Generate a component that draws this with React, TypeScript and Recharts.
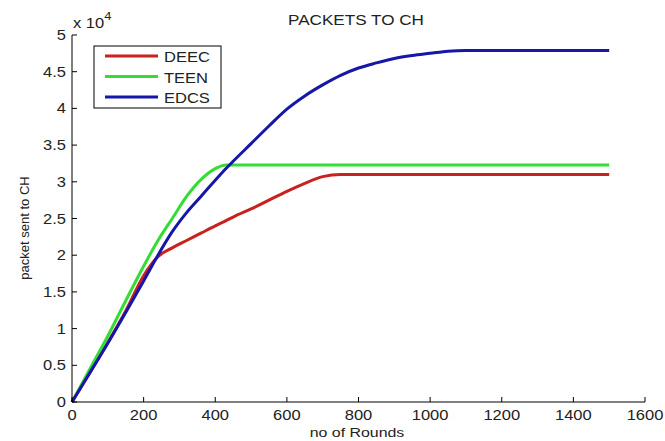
import { LineChart, Line, XAxis, YAxis } from 'recharts';

// rounds sampled along the x axis
const rounds = [0, 50, 100, 150, 200, 240, 280, 320, 360, 400, 430, 450, 500, 550, 600, 650, 700, 750, 800, 850, 900, 950, 1000, 1050, 1100, 1200, 1300, 1400, 1500];

// packets sent to cluster head
const deec = [0, 4000, 8100, 12400, 17200, 19800, 21000, 22000, 23000, 24000, 24700, 25200, 26300, 27500, 28700, 29800, 30700, 31000, 31000, 31000, 31000, 31000, 31000, 31000, 31000, 31000, 31000, 31000, 31000];
const teen = [0, 4500, 9000, 13800, 18500, 22000, 25000, 28000, 30300, 31800, 32300, 32300, 32300, 32300, 32300, 32300, 32300, 32300, 32300, 32300, 32300, 32300, 32300, 32300, 32300, 32300, 32300, 32300, 32300];
const edcs = [0, 4000, 8000, 12200, 16500, 20000, 23200, 25800, 28000, 30200, 31800, 32800, 35200, 37600, 39900, 41700, 43200, 44500, 45500, 46200, 46800, 47200, 47500, 47800, 47900, 47900, 47900, 47900, 47900];

const xTicks = [0, 200, 400, 600, 800, 1000, 1200, 1400, 1600];
const yTicks = [0, 5000, 10000, 15000, 20000, 25000, 30000, 35000, 40000, 45000, 50000];

const series = [
  { key: 'DEEC', values: deec, color: '#c8211f' },
  { key: 'TEEN', values: teen, color: '#33dd33' },
  { key: 'EDCS', values: edcs, color: '#1616a8' },
];

const data = rounds.map((r, i) => ({
  round: r,
  DEEC: deec[i],
  TEEN: teen[i],
  EDCS: edcs[i],
}));

const FONT = '"Liberation Sans", Arial, sans-serif';
const TICK = 5;
// the original picture is stretched a bit horizontally
const SX = 1.18;

const Txt = ({ x, y, size = 14, anchor = 'start', children }: any) => (
  <text
    transform={`translate(${x},${y}) scale(${SX},1)`}
    textAnchor={anchor}
    fontSize={size}
    fill="#222"
    fontFamily={FONT}
  >
    {children}
  </text>
);

const BottomTick = ({ x, y, payload }: any) => (
  <g>
    <line x1={x} x2={x} y1={y} y2={y - TICK} stroke="#000" />
    <Txt x={x} y={y + 18} anchor="middle">{payload.value}</Txt>
  </g>
);

const TopTick = ({ x, y }: any) => (
  <line x1={x} x2={x} y1={y} y2={y + TICK} stroke="#000" />
);

const LeftTick = ({ x, y, payload }: any) => (
  <g>
    <line x1={x} x2={x + TICK} y1={y} y2={y} stroke="#000" />
    <Txt x={x - 6} y={y + 5} anchor="end">{payload.value / 10000}</Txt>
  </g>
);

const RightTick = ({ x, y }: any) => (
  <line x1={x} x2={x - TICK} y1={y} y2={y} stroke="#000" />
);

const LegendBox = () => (
  <g>
    <rect x={94} y={46} width={127} height={62} fill="#fff" stroke="#000" />
    {series.map((s, i) => (
      <g key={s.key}>
        <line x1={105} x2={158} y1={56 + i * 20.5} y2={56 + i * 20.5} stroke={s.color} strokeWidth={3} />
        <Txt x={164} y={62 + i * 20.5}>{s.key}</Txt>
      </g>
    ))}
  </g>
);

export default function App() {
  return (
    <div style={{ position: 'fixed', top: 0, left: 0, width: 665, height: 441, background: '#fff' }}>
      <LineChart
        width={665}
        height={441}
        data={data}
        margin={{ top: 35, right: 20, bottom: 0, left: 0 }}
      >
        <XAxis
          xAxisId="bottom"
          dataKey="round"
          type="number"
          domain={[0, 1600]}
          ticks={xTicks}
          tickSize={0}
          tickMargin={0}
          tick={<BottomTick />}
          height={39}
          stroke="#000"
          interval={0}
        />
        <XAxis
          xAxisId="top"
          orientation="top"
          dataKey="round"
          type="number"
          domain={[0, 1600]}
          ticks={xTicks}
          tickSize={0}
          tickMargin={0}
          tick={<TopTick />}
          height={0}
          stroke="#000"
          interval={0}
        />
        <YAxis
          yAxisId="left"
          type="number"
          domain={[0, 50000]}
          ticks={yTicks}
          tickSize={0}
          tickMargin={0}
          tick={<LeftTick />}
          width={72}
          stroke="#000"
          interval={0}
        />
        <YAxis
          yAxisId="right"
          orientation="right"
          type="number"
          domain={[0, 50000]}
          ticks={yTicks}
          tickSize={0}
          tickMargin={0}
          tick={<RightTick />}
          width={0}
          stroke="#000"
          interval={0}
        />
        {series.map((s) => (
          <Line
            key={s.key}
            xAxisId="bottom"
            yAxisId="left"
            dataKey={s.key}
            type="monotone"
            stroke={s.color}
            strokeWidth={3}
            dot={false}
            isAnimationActive={false}
          />
        ))}
        <LegendBox />
        <Txt x={356} y={25} size={14.5} anchor="middle">PACKETS TO CH</Txt>
        <Txt x={73} y={28}>
          x 10
          <tspan dy={-8} fontSize={11}>4</tspan>
        </Txt>
        <Txt x={357} y={437} size={13.5} anchor="middle">no of Rounds</Txt>
        <text
          x={29}
          y={228}
          textAnchor="middle"
          fontSize={13}
          fill="#222"
          fontFamily={FONT}
          transform="rotate(-90 29 228)"
        >
          packet sent to CH
        </text>
      </LineChart>
    </div>
  );
}
